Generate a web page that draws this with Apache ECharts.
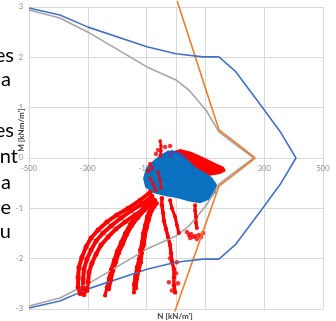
<!DOCTYPE html>
<html>
<head>
<meta charset="utf-8">
<script src="https://cdn.jsdelivr.net/npm/echarts@6/dist/echarts.min.js"></script>
<style>
  html, body { margin: 0; padding: 0; background: #fff; }
  #chart { width: 336px; height: 321px; }
</style>
</head>
<body>
<div id="chart"></div>
<script>
// tick labels
var nTicks = [-500, -300, -100, 100, 300, 500];
var mTicks = [-3, -2, -1, 0, 1, 2, 3];

// interaction envelopes [N, M]
var envBlue = [[-500, 2.98], [-395, 2.84], [-299, 2.60], [-99, 2.21], [0, 2.07], [92, 2.01], [146, 2.01],
  [204, 1.71], [296, 0.99], [357, 0.50], [408, 0], [357, -0.50], [296, -0.99], [204, -1.71], [146, -2.01],
  [92, -2.01], [0, -2.07], [-99, -2.21], [-299, -2.60], [-395, -2.84], [-500, -2.98]];
var envGray = [[-500, 2.94], [-395, 2.78], [-299, 2.50], [-99, 1.81], [0, 1.55], [44, 1.35], [102, 0.95],
  [146, 0.52], [204, 0.26], [265, 0], [204, -0.26], [146, -0.52], [102, -0.95], [44, -1.35], [0, -1.55],
  [-99, -1.81], [-299, -2.50], [-395, -2.78], [-500, -2.94]];
var envOrange = [[4, 3.12], [146, 0.56], [204, 0.30], [269, 0], [204, -0.30], [146, -0.56], [-4, -3.05]];

// blue cloud outline and red cloud outline
var blueCloud = [[-112, -0.40], [-102, -0.20], [-75, -0.04], [-44, 0.10], [-14, 0.16], [17, 0.10], [41, -0.04],
  [65, -0.18], [95, -0.28], [122, -0.38], [139, -0.52], [136, -0.68], [116, -0.82], [82, -0.90], [41, -0.86],
  [7, -0.80], [-34, -0.76], [-75, -0.70], [-105, -0.58]];
var redCloud = [[-14, 0.12], [14, 0.18], [54, 0.12], [99, 0], [133, -0.10], [163, -0.18], [170, -0.26],
  [150, -0.32], [109, -0.36], [65, -0.34], [24, -0.24], [-14, -0.08]];

// red point tracks
var trackA1 = [[-88, -0.68], [-122, -0.84], [-163, -1.00], [-201, -1.13], [-235, -1.27], [-265, -1.43], [-289, -1.59],
  [-306, -1.77], [-320, -1.97], [-330, -2.17], [-333, -2.37], [-333, -2.57], [-326, -2.69]];
var trackA2 = [[-82, -0.76], [-116, -0.92], [-153, -1.05], [-187, -1.19], [-221, -1.35], [-248, -1.49], [-272, -1.65],
  [-289, -1.83], [-303, -2.01], [-313, -2.21], [-316, -2.41], [-316, -2.59], [-313, -2.71]];
var trackA3 = [[-75, -0.84], [-105, -1.00], [-139, -1.13], [-173, -1.27], [-204, -1.41], [-231, -1.57], [-255, -1.73],
  [-272, -1.91], [-286, -2.09], [-296, -2.27], [-299, -2.47], [-303, -2.63]];
var trackB1 = [[-88, -0.84], [-112, -1.00], [-136, -1.15], [-156, -1.31], [-173, -1.49], [-187, -1.67], [-201, -1.85],
  [-211, -2.03], [-221, -2.21], [-228, -2.39], [-235, -2.57], [-241, -2.73]];
var trackB2 = [[-82, -0.88], [-105, -1.03], [-129, -1.19], [-150, -1.35], [-167, -1.53], [-180, -1.71], [-194, -1.89],
  [-204, -2.07], [-214, -2.25], [-221, -2.43], [-228, -2.61]];
var trackC1 = [[-71, -0.84], [-88, -1.00], [-99, -1.17], [-105, -1.33], [-112, -1.49], [-116, -1.67], [-122, -1.83],
  [-126, -2.01], [-133, -2.17], [-139, -2.35], [-143, -2.51], [-143, -2.67]];
var trackC2 = [[-65, -0.90], [-82, -1.05], [-92, -1.23], [-99, -1.39], [-105, -1.55], [-109, -1.73], [-116, -1.89],
  [-119, -2.07], [-126, -2.23], [-133, -2.41], [-136, -2.59]];
var trackD1 = [[-48, -0.80], [-48, -0.94], [-44, -1.09], [-41, -1.25], [-34, -1.41], [-27, -1.57], [-20, -1.73],
  [-17, -1.89], [-14, -2.05], [-7, -2.21], [-7, -2.37], [-7, -2.53], [-3, -2.67]];
var trackD2 = [[-20, -0.84], [-14, -1.00], [-3, -1.17], [3, -1.33], [10, -1.49]];
var trackE = [[65, -0.94], [65, -1.05], [68, -1.17], [68, -1.29], [71, -1.39]];
var trackTop = [[-54, 0.34], [-51, 0.24], [-51, 0.14], [-54, 0.04]];
var redInBlue1 = [[-88, -0.40], [-78, -0.52], [-68, -0.64]];
var redInBlue2 = [[-61, -0.28], [-54, -0.44], [-51, -0.60]];

// loose points
var redDots = [[-20, -1.99], [3, -2.07], [0, -2.29], [-24, -2.47], [7, -2.49], [-14, -2.63],
  [37, -1.47], [51, -1.51], [65, -1.55], [78, -1.53], [92, -1.49], [48, -1.59], [71, -1.61],
  [44, -1.53], [58, -1.57], [85, -1.57],
  [-61, 0.16], [-37, 0.22], [-20, 0.24], [-68, 0.08], [-88, -0.12], [-95, -0.26], [-82, -0.20]];
var purpleDots = [[-27, 0.12], [-14, 0.10], [0, 0.12], [14, 0.08], [-20, 0.04], [27, 0.02]];

var myChart = echarts.init(document.getElementById('chart'));

function polygon(points, color) {
  return {
    type: 'custom',
    silent: true,
    data: [[0, 0]],
    renderItem: function (params, api) {
      var pts = points.map(function (p) { return api.coord(p); });
      return { type: 'polygon', shape: { points: pts }, style: { fill: color } };
    }
  };
}

function track(data, w) {
  return {
    type: 'line',
    data: data,
    symbol: 'circle',
    symbolSize: w + 1,
    lineStyle: { color: '#FF0000', width: w, cap: 'round', join: 'round' },
    itemStyle: { color: '#FF0000' },
    silent: true
  };
}

function envelope(data, color) {
  return {
    type: 'line',
    data: data,
    symbol: 'none',
    clip: false,
    lineStyle: { color: color, width: 1.6 },
    silent: true
  };
}

var gridColor = '#D9D9D9';
var labelFont = { color: '#8C8C8C', fontSize: 7.5, fontFamily: 'Lato' };

var option = {
  animation: false,
  backgroundColor: '#fff',
  grid: { left: 29, right: 13, top: 7, bottom: 12, outerBoundsMode: 'none' },
  xAxis: {
    type: 'value',
    min: -500,
    max: 500,
    position: 'bottom',
    offset: -151,
    axisLine: { onZero: false, lineStyle: { color: gridColor } },
    axisTick: { show: false, customValues: nTicks },
    axisLabel: Object.assign({ customValues: nTicks, margin: 7 }, labelFont),
    splitLine: { lineStyle: { color: gridColor } }
  },
  yAxis: {
    type: 'value',
    min: -3,
    max: 3,
    interval: 1,
    axisLine: { onZero: true, onZeroAxisIndex: 0, lineStyle: { color: gridColor } },
    axisTick: { show: false, customValues: mTicks },
    axisLabel: Object.assign({ customValues: mTicks, margin: 6 }, labelFont),
    splitLine: { lineStyle: { color: gridColor } }
  },
  graphic: [
    { type: 'text', x: 14, y: 56, style: { text: 'es', font: '20px Lato', fill: '#000', align: 'right', verticalAlign: 'middle' } },
    { type: 'text', x: 11, y: 80, style: { text: 'a', font: '20px Lato', fill: '#000', align: 'right', verticalAlign: 'middle' } },
    { type: 'text', x: 14, y: 131, style: { text: 'es', font: '20px Lato', fill: '#000', align: 'right', verticalAlign: 'middle' } },
    { type: 'text', x: 18, y: 157, style: { text: 'nt', font: '20px Lato', fill: '#000', align: 'right', verticalAlign: 'middle' } },
    { type: 'text', x: 11, y: 183, style: { text: 'a', font: '20px Lato', fill: '#000', align: 'right', verticalAlign: 'middle' } },
    { type: 'text', x: 11, y: 208, style: { text: 'e', font: '20px Lato', fill: '#000', align: 'right', verticalAlign: 'middle' } },
    { type: 'text', x: 11, y: 232, style: { text: 'u', font: '20px Lato', fill: '#000', align: 'right', verticalAlign: 'middle' } },
    { type: 'text', x: 21, y: 130, rotation: Math.PI / 2,
      style: { text: "M [kNm/m']", font: 'bold 8px Lato', fill: '#404040', align: 'center', verticalAlign: 'middle' } },
    { type: 'text', x: 175, y: 316,
      style: { text: "N [kN/m']", font: 'bold 8px Lato', fill: '#404040', align: 'center', verticalAlign: 'middle' } }
  ],
  series: [
    polygon(redCloud, '#FF0000'),
    track(trackA1, 4), track(trackA2, 4), track(trackA3, 4),
    track(trackB1, 3.2), track(trackB2, 3.2),
    track(trackC1, 3.2), track(trackC2, 3.2),
    track(trackD1, 3.4), track(trackD2, 3), track(trackE, 3), track(trackTop, 2.5),
    {
      type: 'scatter',
      data: redDots,
      symbolSize: 4.5,
      itemStyle: { color: '#FF0000' },
      silent: true
    },
    polygon(blueCloud, '#0A70C0'),
    track(redInBlue1, 2), track(redInBlue2, 2),
    {
      type: 'scatter',
      data: purpleDots,
      symbolSize: 3.5,
      itemStyle: { color: '#7030A0' },
      silent: true
    },
    envelope(envGray, '#A5A5A5'),
    envelope(envOrange, '#ED7D31'),
    envelope(envBlue, '#4472C4')
  ]
};

window.onresize = function () {
  myChart.resize();
};
myChart.setOption(option);
</script>
</body>
</html>
